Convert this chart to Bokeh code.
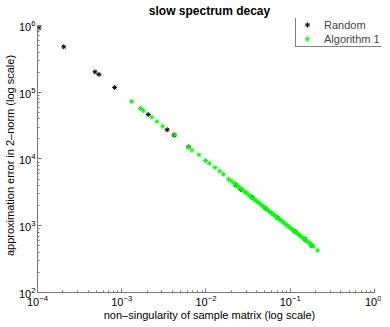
from bokeh.plotting import figure
from bokeh.models import Range1d, Legend, LegendItem
from bokeh.embed import file_html
from bokeh.resources import INLINE

# Random sampling results: (non-singularity, error)
random_x = [1.04e-4, 2.05e-4, 4.81e-4, 5.36e-4, 8.24e-4, 2.06e-3, 3.46e-3, 4.18e-3,
            6.21e-3, 0.0228, 0.0259, 0.0357, 0.0507, 0.0701, 0.1138, 0.149, 0.180]
random_y = [9.2e5, 4.80e5, 2.02e5, 1.85e5, 1.18e5, 4.64e4, 2.74e4, 2.28e4,
            1.52e4, 4050, 3490, 2650, 1830, 1330, 820, 628, 501]

# Algorithm 1 results
alg_x = [0.00131, 0.00167, 0.00181, 0.00228, 0.00262, 0.00306, 0.00426, 0.00621,
         0.00682, 0.00824, 0.00987, 0.01094, 0.01274, 0.01458, 0.01615, 0.01849,
         0.0198, 0.0211, 0.0224, 0.0236, 0.0247, 0.0261, 0.0275, 0.0288, 0.0302,
         0.0318, 0.0331, 0.0349, 0.0364, 0.0381, 0.0399, 0.0415, 0.0436, 0.0455,
         0.0478, 0.0497, 0.0521, 0.0546, 0.0569, 0.0597, 0.0624, 0.0652, 0.0683,
         0.0712, 0.0745, 0.0781, 0.0815, 0.0852, 0.0893, 0.0931, 0.0976, 0.1018,
         0.1065, 0.1113, 0.1162, 0.1218, 0.1271, 0.1330, 0.1389, 0.1452, 0.1518,
         0.1586, 0.1657, 0.1731, 0.1802, 0.1875, 0.2113]
alg_y = [7.26e4, 5.71e4, 5.27e4, 4.23e4, 3.65e4, 3.10e4, 2.28e4, 1.52e4,
         1.36e4, 1.156e4, 9500, 8630, 7460, 6570, 5900, 4980,
         4700, 4380, 4200, 3920, 3790, 3550, 3400, 3210, 3110,
         2910, 2830, 2650, 2570, 2430, 2340, 2230, 2150, 2030,
         1950, 1880, 1780, 1710, 1630, 1570, 1490, 1430, 1360,
         1310, 1245, 1195, 1140, 1095, 1040, 1000, 955, 912,
         875, 835, 803, 762, 733, 698, 671, 640, 614,
         585, 562, 536, 516, 494, 430]

series_names = ["Random", "Algorithm 1"]
title_text = "slow spectrum decay"
x_label = "non\u2013singularity of sample matrix (log scale)"
y_label = "approximation error in 2\u2013norm (log scale)"

# axis extents (the drawn axes span exactly these)
x_min, x_max = 1e-4, 1.0
y_min, y_max = 1e2, 1e6

FONT = "Liberation Sans"

# the frame is a little larger than the axes so the legend can sit above/right of them
p = figure(frame_width=344, frame_height=274,
           x_axis_type="log", y_axis_type="log",
           x_range=Range1d(x_min, 1.211), y_range=Range1d(y_min, 1.273e6),
           output_backend="svg", toolbar_location=None,
           title=title_text,
           min_border_left=32, min_border_right=0,
           min_border_top=17, min_border_bottom=24)

p.title.text_font = FONT
p.title.text_font_size = "12px"
p.title.text_font_style = "bold"
p.title.align = "center"
p.title.offset = -6
p.title.standoff = 2
p.title.text_color = "black"

p.grid.visible = False
p.outline_line_color = None

for ax in (p.xaxis[0], p.yaxis[0]):
    ax.major_tick_in = 4
    ax.major_tick_out = 0
    ax.minor_tick_in = 2
    ax.minor_tick_out = 0
    ax.axis_line_color = "#777777"
    ax.major_tick_line_color = "#777777"
    ax.minor_tick_line_color = "#777777"
    ax.major_label_text_font = FONT
    ax.major_label_text_font_size = "11px"
    ax.major_label_text_color = "black"
    ax.axis_label_text_font = FONT
    ax.axis_label_text_font_size = "11px"
    ax.axis_label_text_font_style = "normal"
    ax.axis_label_text_color = "black"
    ax.major_label_standoff = 2
    ax.axis_label_standoff = 0

p.xaxis.bounds = (x_min, x_max)
p.yaxis.bounds = (y_min, y_max)
p.xaxis.axis_label = x_label
p.yaxis.axis_label = y_label

r1 = p.scatter(random_x, random_y, marker="asterisk", size=5,
               line_color="black", line_width=1)
r2 = p.scatter(alg_x, alg_y, marker="asterisk", size=5,
               line_color="#00ff00", line_width=1)

legend = Legend(items=[LegendItem(label=series_names[0], renderers=[r1]),
                       LegendItem(label=series_names[1], renderers=[r2])],
                location=(258, 245))
legend.label_text_font = FONT
legend.label_text_font_size = "11px"
legend.label_height = 13
legend.glyph_height = 13
legend.glyph_width = 20
legend.label_standoff = 7
legend.spacing = 1
legend.padding = 1
legend.margin = 0
legend.border_line_color = "black"
legend.border_line_width = 0.7
legend.background_fill_alpha = 1.0
p.add_layout(legend)

open("out.html", "w").write(file_html(p, INLINE))
